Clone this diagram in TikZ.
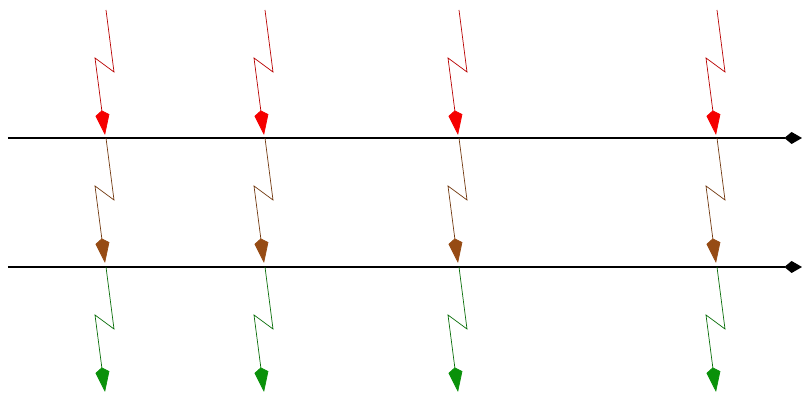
\documentclass[tikz,border=0pt]{standalone}
\usepackage{tikz}
\usetikzlibrary{arrows.meta,calc}
\definecolor{boltred}{RGB}{245,0,0}
\definecolor{boltbrown}{RGB}{150,75,20}
\definecolor{boltgreen}{RGB}{10,145,10}
\tikzset{
  rail/.style={draw=black,line width=0.9pt,-{Kite[length=4.4mm,width=3mm,inset=1.8mm]}},
  bolt/.style={draw=#1!75!black,line width=0.5pt,line join=miter,
    -{Kite[length=6.2mm,width=3.5mm,inset=1.2mm,color=#1]}},
  bolt/.default=boltred,
}
\begin{document}
\begin{tikzpicture}
  \useasboundingbox (0,0) rectangle (20.05,9.825);
  % the two horizontal rails
  \coordinate (r1a) at (0.2,6.375); \coordinate (r1b) at (20.05,6.375);
  \coordinate (r2a) at (0.2,3.15);  \coordinate (r2b) at (20.05,3.15);
  \draw[rail] (r1a) -- (r1b);
  \draw[rail] (r2a) -- (r2b);
  % lightning bolts, one per column and row
  \foreach \x [count=\i] in {2.65,6.625,11.475,17.925}{
    \foreach \y/\col [count=\j] in {9.575/boltred,6.375/boltbrown,3.15/boltgreen}{
      \coordinate (top\i\j) at (\x,\y);
      \coordinate (tip\i\j) at ($(top\i\j)+(-0.025,-3.125)$);
      \draw[bolt=\col] (top\i\j) -- ++(0.2,-1.55) -- ++(-0.475,0.35) -- (tip\i\j);
    }
  }
\end{tikzpicture}
\end{document}
